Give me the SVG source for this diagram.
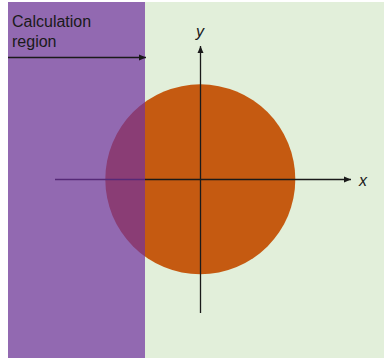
<svg xmlns="http://www.w3.org/2000/svg" width="384" height="358" viewBox="0 0 384 358">
  <defs>
    <style>
      .ax { stroke: #1a1a1a; stroke-width: 1.3; fill: none; }
      .lbl { font-family: "Liberation Sans", Arial, sans-serif; fill: #1a1a1a; }
      .var { font-family: "Liberation Sans", Arial, sans-serif; font-style: italic; font-size: 16px; fill: #1a1a1a; }
    </style>
    <marker id="arr" markerWidth="8" markerHeight="8" refX="7" refY="4" orient="auto" markerUnits="userSpaceOnUse">
      <path d="M0,1 L7,4 L0,7 Z" fill="#1a1a1a"/>
    </marker>
  </defs>
  <rect width="384" height="358" fill="#ffffff"/>
  <g id="background">
    <rect x="8" y="2" width="376" height="356" fill="#E2EFDA"/>
  </g>
  <g id="circle">
    <circle cx="200.3" cy="179.3" r="95" fill="#C55A11"/>
  </g>
  <g id="axes">
    <line class="ax" x1="55" y1="179.5" x2="351" y2="179.5" marker-end="url(#arr)"/>
    <line class="ax" x1="200.5" y1="313" x2="200.5" y2="46" marker-end="url(#arr)"/>
  </g>
  <g id="region">
    <rect x="8" y="2" width="137" height="356" fill="#7030A0" fill-opacity="0.7"/>
    <text class="lbl" x="12" y="27" font-size="16">Calculation</text>
    <text class="lbl" x="12" y="47" font-size="16">region</text>
  </g>
  <g id="connectors">
    <line class="ax" x1="8" y1="57.5" x2="146" y2="57.5" marker-end="url(#arr)"/>
  </g>
  <g id="labels">
    <text class="var" x="359" y="186">x</text>
    <text class="var" x="196" y="37">y</text>
  </g>
</svg>
